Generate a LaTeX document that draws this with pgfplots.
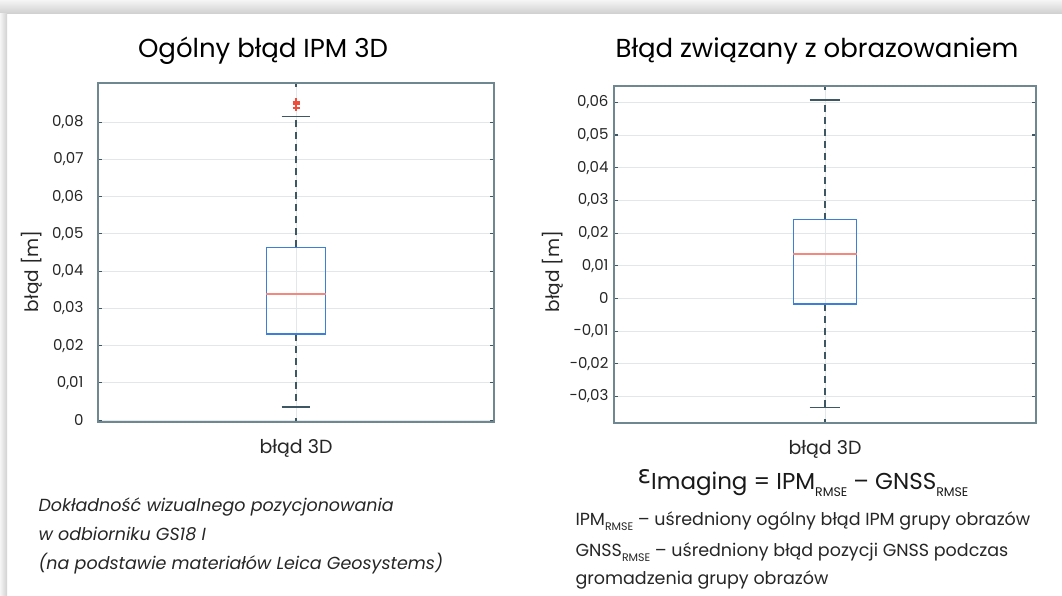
\documentclass[border=0pt]{standalone}
\usepackage{fontspec}
\setmainfont{Poppins}
\newfontfamily\epsfont{DejaVu Sans}
\usepackage{pgfplots}
\pgfplotsset{compat=1.18}
\definecolor{boxblue}{RGB}{60,127,216}
\definecolor{medred}{RGB}{244,136,126}
\definecolor{outred}{RGB}{238,78,58}
\definecolor{whisk}{RGB}{61,87,99}
\definecolor{framec}{RGB}{111,135,145}
\definecolor{gridc}{RGB}{226,231,233}
\pgfplotsset{
  mybox/.style={
    scale only axis,
    xmin=0.5, xmax=1.5,
    xtick={1}, xticklabels={błąd 3D},
    scaled y ticks=false,
    grid=major, grid style={gridc, line width=0.8pt},
    axis line style={framec, line width=1.4pt},
    tick style={whisk, line width=1.2pt},
    major tick length=4pt,
    tick align=inside,
    yticklabel style={font=\fontsize{15}{18}\selectfont, text=black!85},
    xticklabel style={anchor=base, yshift=-31pt, font=\fontsize{19}{22}\selectfont, text=black!85},
    ylabel={błąd [m]},
    ylabel style={font=\fontsize{18.5}{22}\selectfont, anchor=center, text=black!85},
    whisker/.style={whisk, line width=1.3pt, dash pattern=on 7pt off 5pt},
    cap/.style={whisk, line width=1.6pt},
    boxline/.style={boxblue, line width=1.4pt},
    medline/.style={medred, line width=1.5pt},
  }
}
\begin{document}
\begin{tikzpicture}
% background card
\fill[white] (0pt,0pt) rectangle (1062pt,-595pt);
\shade[top color=white!96!black, bottom color=white!82!black] (0pt,0pt) rectangle (1062pt,-13pt);
\shade[left color=white!96!black, right color=white!82!black] (0pt,-13pt) rectangle (7pt,-595pt);

% left panel: overall 3D IPM error
% whiskers 0.00355 / 0.0815, quartiles 0.0231 / 0.0464, median 0.0339
\begin{axis}[mybox,
  at={(98pt,-422pt)}, anchor=south west,
  width=396pt, height=339pt,
  ymin=-0.0005, ymax=0.0905,
  ytick={0,0.01,0.02,0.03,0.04,0.05,0.06,0.07,0.08},
  yticklabels={0,{0,01},{0,02},{0,03},{0,04},{0,05},{0,06},{0,07},{0,08}},
  yticklabel style={xshift=-11pt},
  ylabel style={at={(axis description cs:-0.167,0.445)}},
]
\addplot[whisker] coordinates {(1,0.0464) (1,0.0815)};
\addplot[whisker] coordinates {(1,0.0231) (1,0.00355)};
\addplot[cap] coordinates {(0.9635,0.0815) (1.0365,0.0815)};
\addplot[cap] coordinates {(0.9635,0.00355) (1.0365,0.00355)};
\addplot[boxline] coordinates {(0.925,0.0231) (1.075,0.0231) (1.075,0.0464) (0.925,0.0464) (0.925,0.0231)};
\addplot[medline] coordinates {(0.925,0.0339) (1.075,0.0339)};
\addplot[only marks, mark=+, mark size=3.5pt, mark options={outred, line width=1.8pt}]
  coordinates {(1,0.0855) (1,0.0848) (1,0.0838)};
\end{axis}

% right panel: imaging error
\begin{axis}[mybox,
  at={(614pt,-423pt)}, anchor=south west,
  width=422pt, height=337pt,
  ymin=-0.0381, ymax=0.065,
  ytick={-0.03,-0.02,-0.01,0,0.01,0.02,0.03,0.04,0.05,0.06},
  yticklabels={{-0,03},{-0,02},{-0,01},0,{0,01},{0,02},{0,03},{0,04},{0,05},{0,06}},
  yticklabel style={xshift=-2pt},
  ylabel style={at={(axis description cs:-0.145,0.45)}},
]
\addplot[whisker] coordinates {(1,0.0241) (1,0.0608)};
\addplot[whisker] coordinates {(1,-0.0017) (1,-0.0334)};
\addplot[cap] coordinates {(0.9635,0.0608) (1.0365,0.0608)};
\addplot[cap] coordinates {(0.9635,-0.0334) (1.0365,-0.0334)};
\addplot[boxline] coordinates {(0.925,-0.0017) (1.075,-0.0017) (1.075,0.0241) (0.925,0.0241) (0.925,-0.0017)};
\addplot[medline] coordinates {(0.925,0.0136) (1.075,0.0136)};
\end{axis}

% titles
\node[anchor=base, font=\fontsize{26}{30}\selectfont] at (263pt,-57pt) {Ogólny błąd IPM 3D};
\node[anchor=base, font=\fontsize{26}{30}\selectfont] at (817pt,-57pt) {Błąd związany z obrazowaniem};

% left caption
\node[anchor=base west, font=\fontsize{17.5}{21}\selectfont\itshape, text=black!85] at (35pt,-511.7pt) {Dokładność wizualnego pozycjonowania};
\node[anchor=base west, font=\fontsize{17.5}{21}\selectfont\itshape, text=black!85] at (35pt,-540.5pt) {w odbiorniku GS18 I};
\node[anchor=base west, font=\fontsize{17.5}{21}\selectfont\itshape, text=black!85] at (35pt,-569.5pt) {(na podstawie materiałów Leica Geosystems)};

% right formula and legend
\node[anchor=base, font=\fontsize{23}{27}\selectfont, text=black!90] at (803pt,-489pt)
  {\raisebox{6pt}{\epsfont\fontsize{25}{28}\selectfont ε}Imaging = IPM\raisebox{-7pt}{\fontsize{12.5}{14}\selectfont RMSE} – GNSS\raisebox{-7pt}{\fontsize{12.5}{14}\selectfont RMSE}};
\node[anchor=base west, font=\fontsize{17.5}{21}\selectfont, text=black!85] at (572pt,-525.7pt)
  {IPM\raisebox{-4.5pt}{\fontsize{11}{13}\selectfont RMSE} – uśredniony ogólny błąd IPM grupy obrazów};
\node[anchor=base west, font=\fontsize{17.5}{21}\selectfont, text=black!85] at (572pt,-556.7pt)
  {GNSS\raisebox{-4.5pt}{\fontsize{11}{13}\selectfont RMSE} – uśredniony błąd pozycji GNSS podczas};
\node[anchor=base west, font=\fontsize{17.5}{21}\selectfont, text=black!85] at (572pt,-584pt)
  {gromadzenia grupy obrazów};

\pgfresetboundingbox
\useasboundingbox (0pt,0pt) rectangle (1062pt,-595pt);
\end{tikzpicture}
\end{document}
